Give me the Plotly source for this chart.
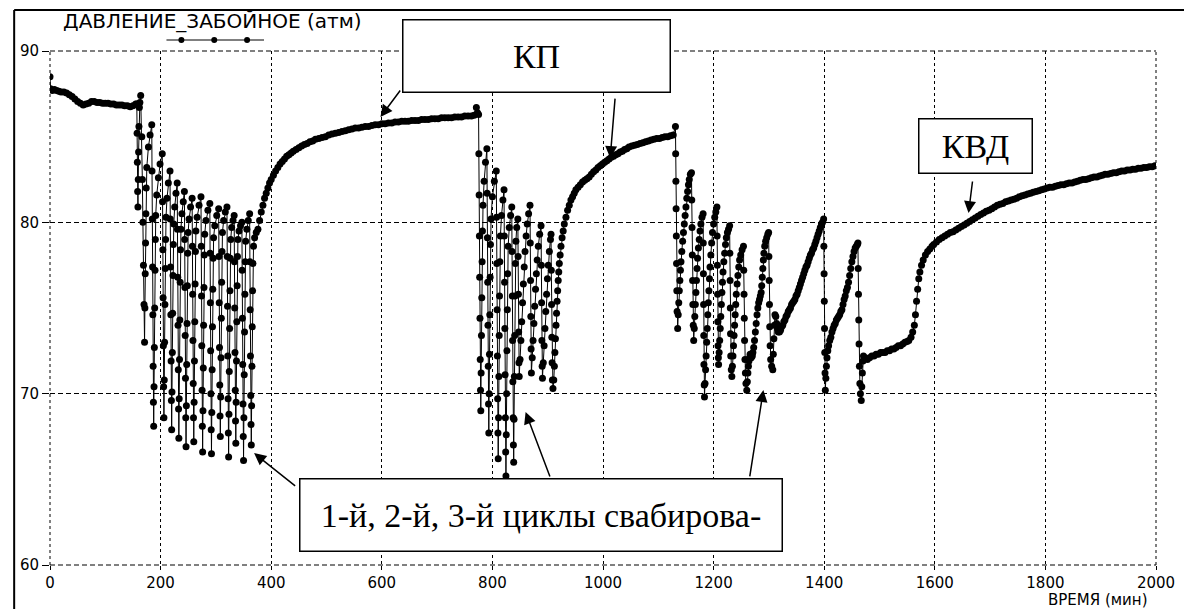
import plotly.graph_objects as go

# ---------------- data (time in minutes, bottom-hole pressure in atm) ----------------
initial = [(0, 88.5), (1, 87.8), (4, 87.7), (8, 87.75), (12, 87.7), (16, 87.65), (20, 87.6),
           (25, 87.6), (30, 87.55), (35, 87.45), (40, 87.35), (45, 87.2), (50, 87.05), (55, 86.95),
           (60, 86.85), (65, 86.9), (70, 86.95), (75, 87.05), (80, 87.05), (85, 87.0), (90, 87.0),
           (95, 86.95), (100, 86.95), (105, 86.95), (110, 86.9), (115, 86.9), (120, 86.85),
           (125, 86.85), (130, 86.85), (135, 86.8), (140, 86.8), (145, 86.75), (150, 86.8), (155, 86.9)]

swab1 = [(157, 86.9), (157.5, 85.2), (158, 83.5), (158.5, 81.8), (159, 80.9), (159.6, 82.5),
         (160.2, 84.1), (160.8, 85.6), (161.6, 86.7), (162.5, 87.0), (164, 87.4),
         (166, 85.0), (167, 82.5), (168, 80.0), (169, 77.5), (170, 75.2), (171, 73.0),
         (171.6, 75.0), (172.2, 77.0), (172.8, 78.8), (173.4, 80.5), (174, 82.0), (175, 83.2),
         (178, 84.4), (181, 85.1), (184, 85.7),
         (184.5, 83.0), (185, 80.2), (185.5, 77.4), (186, 74.6), (186.5, 71.6), (187, 69.5), (187.5, 68.1),
         (188.1, 70.4), (188.7, 72.7), (189.3, 75.0), (189.9, 77.2), (190.5, 79.0), (191.2, 80.4),
         (193, 81.6), (196, 82.6), (199, 83.4), (203, 84.0),
         (203.5, 81.2), (204, 78.4), (204.5, 75.6), (205, 72.8), (205.5, 70.4), (206, 68.6),
         (206.6, 70.8), (207.2, 73.0), (207.8, 75.2), (208.4, 77.3), (209, 79.0), (209.8, 80.3),
         (211.5, 81.4), (214, 82.3), (217, 83.0),
         (217.5, 80.2), (218, 77.4), (218.5, 74.6), (219, 71.9), (219.5, 69.6), (220, 67.9),
         (220.6, 70.1), (221.2, 72.4), (221.8, 74.7), (222.4, 76.9), (223, 78.7), (223.8, 79.9),
         (225.5, 80.9), (227.8, 81.7), (230, 82.3),
         (230.5, 79.6), (231, 76.8), (231.5, 74.0), (232, 71.4), (232.5, 69.1), (233, 67.4),
         (233.6, 69.7), (234.2, 72.0), (234.8, 74.3), (235.4, 76.5), (236, 78.4), (236.8, 79.6),
         (238.5, 80.5), (241, 81.2), (243, 81.8),
         (243.5, 79.0), (244, 76.2), (244.5, 73.4), (245, 70.9), (245.5, 68.6), (246, 66.9),
         (246.6, 69.3), (247.2, 71.7), (247.8, 74.1), (248.4, 76.3), (249, 78.2), (249.8, 79.4),
         (251.5, 80.2), (254.2, 80.9), (257, 81.4),
         (257.5, 78.6), (258, 75.8), (258.5, 73.1), (259, 70.6), (259.5, 68.6), (260, 67.2),
         (260.6, 69.5), (261.2, 71.9), (261.8, 74.2), (262.4, 76.4), (263, 78.3), (263.8, 79.5),
         (266, 80.3), (269.5, 81.0), (273, 81.5),
         (273.5, 78.6), (274, 75.7), (274.5, 72.8), (275, 70.2), (275.5, 68.1), (276, 66.6),
         (276.6, 69.0), (277.2, 71.5), (277.8, 74.0), (278.4, 76.2), (279, 78.1), (279.8, 79.3),
         (282, 80.1), (285.5, 80.7), (289, 81.1),
         (289.5, 78.2), (290, 75.3), (290.5, 72.5), (291, 70.0), (291.5, 67.9), (292, 66.5),
         (292.6, 68.9), (293.2, 71.4), (293.8, 73.9), (294.4, 76.1), (295, 77.9), (295.8, 79.1),
         (298, 79.8), (301.5, 80.4), (305, 80.8),
         (305.5, 78.0), (306, 75.3), (306.5, 72.7), (307, 70.5), (307.5, 68.7), (308, 67.5),
         (308.6, 69.8), (309.2, 72.1), (309.8, 74.4), (310.4, 76.5), (311, 78.3), (311.8, 79.4),
         (314, 80.1), (317, 80.6), (320, 80.9),
         (320.5, 78.0), (321, 75.1), (321.5, 72.2), (322, 69.7), (322.5, 67.7), (323, 66.3),
         (323.6, 68.8), (324.2, 71.3), (324.8, 73.8), (325.4, 76.0), (326, 77.9), (326.8, 79.0),
         (328.5, 79.7), (331, 80.1), (333, 80.4),
         (333.5, 77.7), (334, 75.0), (334.5, 72.4), (335, 70.2), (335.5, 68.4), (336, 67.1),
         (336.6, 69.5), (337.2, 71.9), (337.8, 74.2), (338.4, 76.3), (339, 78.0), (339.8, 79.0),
         (341.8, 79.5), (344.5, 79.8), (347, 80.0),
         (347.5, 77.2), (348, 74.4), (348.5, 71.7), (349, 69.4), (349.5, 67.5), (350, 66.1),
         (350.6, 68.6), (351.2, 71.1), (351.8, 73.6), (352.4, 75.8), (353, 77.7), (353.8, 78.9),
         (356, 79.6), (358.5, 80.1), (361, 80.5),
         (361.5, 77.7), (362, 74.9), (362.5, 72.2), (363, 69.9), (363.5, 68.2), (364, 67.0),
         (364.6, 69.3), (365.2, 71.6), (365.8, 73.9), (366.4, 76.0), (367, 77.6), (368, 78.6),
         (370, 79.1), (373, 79.4), (376, 79.6)]

recov1 = [(379, 80.1), (382, 80.6), (385, 81.0), (388, 81.4), (391, 81.7), (394, 82.0), (397, 82.3),
          (400, 82.5), (404, 82.75), (408, 83.0), (412, 83.2), (416, 83.4), (420, 83.55), (424, 83.7),
          (428, 83.85), (432, 83.95), (436, 84.05), (440, 84.15), (445, 84.25), (450, 84.35),
          (455, 84.45), (460, 84.55), (465, 84.6), (470, 84.7), (475, 84.75), (480, 84.85),
          (486, 84.9), (492, 84.95), (498, 85.0), (504, 85.1), (510, 85.15), (516, 85.2),
          (522, 85.25), (528, 85.3), (534, 85.35), (540, 85.4), (546, 85.45), (552, 85.5),
          (558, 85.5), (564, 85.55), (570, 85.6), (576, 85.6), (582, 85.65), (588, 85.7),
          (594, 85.7), (600, 85.75), (606, 85.75), (612, 85.8), (618, 85.8), (624, 85.85),
          (630, 85.85), (636, 85.9), (642, 85.9), (648, 85.9), (654, 85.95), (660, 85.95),
          (666, 85.95), (672, 86.0), (678, 86.0), (684, 86.0), (690, 86.05), (696, 86.05),
          (702, 86.05), (708, 86.1), (714, 86.1), (720, 86.1), (726, 86.1), (732, 86.15),
          (738, 86.15), (744, 86.15), (750, 86.2), (756, 86.2), (762, 86.2), (767, 86.25), (771, 86.7)]

swab2 = [(773, 86.4), (775, 86.3),
         (775.5, 84.0), (776, 81.6), (776.5, 79.2), (777, 76.8), (777.5, 74.4), (778, 72.0),
         (778.5, 70.2), (779, 69.0),
         (779.6, 71.2), (780.2, 73.4), (780.8, 75.6), (781.4, 77.7), (782, 79.5), (783, 81.0),
         (785, 82.4), (787.5, 83.5), (790, 84.3),
         (790.5, 81.7), (791, 79.1), (791.5, 76.5), (792, 74.0), (792.5, 71.6), (793, 69.4), (793.5, 67.7),
         (794.1, 70.0), (794.7, 72.3), (795.3, 74.6), (795.9, 76.8), (796.5, 78.7), (797.5, 80.2),
         (800, 81.5), (803.5, 82.4), (807, 83.0),
         (807.5, 80.3), (808, 77.6), (808.5, 74.9), (809, 72.2), (809.5, 69.7), (810, 67.7), (810.5, 66.2),
         (811.1, 68.6), (811.7, 71.0), (812.3, 73.4), (812.9, 75.7), (813.5, 77.7), (814.5, 79.2),
         (816.5, 80.4), (819, 81.3), (821, 81.9),
         (821.5, 79.2), (822, 76.5), (822.5, 73.8), (823, 71.1), (823.5, 68.6), (824, 66.6), (824.5, 65.2),
         (825.1, 67.6), (825.7, 70.0), (826.3, 72.5), (826.9, 74.9), (827.5, 77.0), (828.5, 78.6),
         (830.5, 79.7), (833, 80.4), (835, 80.9),
         (835.5, 78.3), (836, 75.7), (836.5, 73.1), (837, 70.7), (837.5, 68.6), (838, 67.0), (838.5, 66.0),
         (839.1, 68.5), (839.7, 71.0), (840.3, 73.4), (840.9, 75.7), (841.5, 77.6), (842.5, 78.9),
         (844, 79.7), (846, 80.2),
         (846.5, 78.0), (847, 75.8), (847.5, 73.6), (848, 71.8), (848.5, 71.0),
         (850, 72.0), (851.5, 73.1), (853, 74.2), (854.5, 75.3), (856, 76.4), (857.5, 77.4),
         (859, 78.3), (861, 79.2), (863, 79.9), (865.5, 80.5), (868, 81.0),
         (868.5, 78.8), (869, 76.6), (869.5, 74.5), (870, 72.6), (870.5, 71.2),
         (872, 72.1), (873.5, 73.1), (875, 74.1), (876.5, 75.1), (878, 76.1), (879.5, 77.0),
         (881, 77.8), (883, 78.6), (885.5, 79.3), (888, 79.8),
         (888.5, 77.5), (889, 75.3), (889.5, 73.1), (890, 71.6), (890.5, 70.9),
         (892, 71.8), (893.5, 72.8), (895, 73.8), (896.5, 74.8), (898, 75.8), (899.5, 76.7),
         (901, 77.5), (903, 78.3), (905, 79.0), (906, 79.3),
         (906.5, 77.2), (907, 75.2), (907.5, 73.3), (908, 71.8), (908.5, 70.8), (909.5, 70.3)]

recov2 = [(911, 70.8), (912, 71.6), (913, 72.4), (914, 73.2), (915, 74.0), (916, 74.7), (917, 75.4),
          (918, 76.0), (919, 76.6), (920, 77.1), (921, 77.6), (922.5, 78.1), (924, 78.6), (926, 79.1),
          (928, 79.5), (930, 79.9), (933, 80.3), (936, 80.7), (939, 81.0), (942, 81.3), (945, 81.5),
          (948, 81.7), (951, 81.9), (955, 82.05), (959, 82.2), (963, 82.35), (967, 82.45),
          (971, 82.55), (975, 82.65), (979, 82.8), (983, 82.95), (987, 83.05), (991, 83.2),
          (995, 83.3), (999, 83.4), (1003, 83.5), (1007, 83.6), (1011, 83.7), (1015, 83.8),
          (1019, 83.85), (1023, 83.95), (1027, 84.0), (1031, 84.1), (1035, 84.15), (1039, 84.25),
          (1043, 84.3), (1047, 84.4), (1052, 84.45), (1057, 84.5), (1062, 84.55), (1067, 84.6),
          (1072, 84.65), (1077, 84.7), (1082, 84.75), (1087, 84.8), (1092, 84.85), (1097, 84.9),
          (1102, 84.9), (1107, 84.95), (1112, 85.0), (1117, 85.0), (1122, 85.05), (1127, 85.1)]

swab3 = [(1131, 85.6), (1131.4, 84.0), (1131.8, 82.4), (1132.2, 80.8), (1132.6, 79.2), (1133, 77.6),
         (1133.5, 76.0), (1134, 74.8), (1135, 73.8),
         (1136, 74.6), (1137, 75.3), (1138, 76.0), (1139, 76.6), (1140, 77.2), (1141, 77.7),
         (1142.5, 78.3), (1144, 78.9), (1145.5, 79.4), (1147, 79.9), (1148.5, 80.4), (1150, 80.9),
         (1151.5, 81.4), (1153, 81.8), (1154.5, 82.2), (1156, 82.5), (1158, 82.8), (1160, 82.9),
         (1160.5, 81.3), (1161, 79.7), (1161.5, 78.1), (1162, 76.6), (1162.5, 75.2), (1163.2, 74.0),
         (1164, 73.1),
         (1165, 73.8), (1166, 74.5), (1167, 75.2), (1168, 75.9), (1169, 76.6), (1170, 77.3),
         (1171, 77.9), (1172.5, 78.5), (1174, 79.0), (1175.5, 79.5), (1177, 79.9), (1179, 80.3),
         (1181, 80.5),
         (1181.3, 78.8), (1181.6, 77.0), (1181.9, 75.2), (1182.2, 73.4), (1182.5, 71.7), (1183, 70.5),
         (1183.5, 69.8),
         (1184.5, 70.6), (1185.5, 71.4), (1186.5, 72.2), (1187.5, 73.0), (1188.5, 73.8), (1189.5, 74.6),
         (1190.5, 75.3), (1191.5, 76.0), (1192.5, 76.7), (1193.5, 77.4), (1195, 78.1), (1196.5, 78.8),
         (1198, 79.4), (1200, 79.9), (1202, 80.3), (1204, 80.6), (1206, 80.9),
         (1206.4, 79.2), (1206.8, 77.5), (1207.2, 75.8), (1207.6, 74.2), (1208, 72.8), (1208.6, 72.1),
         (1209, 71.7),
         (1210, 72.4), (1211, 73.1), (1212, 73.8), (1213, 74.5), (1214, 75.2), (1215, 75.9),
         (1216, 76.5), (1217, 77.1), (1218.5, 77.7), (1220, 78.2), (1221.5, 78.7), (1223, 79.1),
         (1225, 79.4), (1227, 79.6), (1229, 79.8),
         (1229.4, 78.2), (1229.8, 76.6), (1230.2, 75.0), (1230.6, 73.5), (1231, 72.2), (1232, 71.4),
         (1233, 71.0),
         (1234, 71.6), (1235, 72.2), (1236, 72.8), (1237, 73.4), (1238, 74.0), (1239, 74.6),
         (1240, 75.2), (1241, 75.8), (1242.5, 76.4), (1244, 76.9), (1245.5, 77.4), (1247, 77.8),
         (1249, 78.1), (1251.5, 78.4), (1254, 78.6),
         (1254.5, 77.2), (1255, 75.8), (1255.5, 74.4), (1256, 73.1), (1256.7, 72.0), (1257.5, 71.2),
         (1258.5, 70.6), (1260, 70.2),
         (1261, 70.7), (1262, 71.2), (1263, 71.6), (1264, 71.9), (1265, 72.1), (1266, 72.3),
         (1267, 72.2), (1268, 72.1), (1269, 72.3), (1270, 72.2), (1271, 72.4), (1272.5, 72.7),
         (1274, 73.1), (1275.5, 73.6), (1277, 74.1), (1278.5, 74.6), (1280, 75.0), (1281.5, 75.3),
         (1283, 75.5), (1284.5, 75.7), (1286, 75.9), (1287, 76.3), (1288, 76.8), (1289, 77.3),
         (1290, 77.8), (1291, 78.2), (1292.5, 78.6), (1294, 78.9), (1296, 79.1), (1298, 79.3),
         (1299.5, 79.4),
         (1300, 78.0), (1300.5, 76.6), (1301, 75.2), (1301.5, 73.9), (1302.2, 72.8), (1303.2, 72.0),
         (1305, 71.6), (1307, 71.4),
         (1308, 72.3), (1309, 73.2), (1310, 74.0), (1311, 74.6), (1312.5, 74.5), (1314, 74.1),
         (1315.5, 73.8), (1317, 73.6), (1319, 73.6), (1321, 73.7), (1323, 73.9), (1325, 74.0),
         (1327, 74.2), (1329, 74.3), (1331, 74.5), (1333, 74.6), (1335, 74.8), (1337, 74.9),
         (1339, 75.0), (1341, 75.2), (1343, 75.3), (1345, 75.4), (1347, 75.5), (1349, 75.7),
         (1351, 75.8), (1353, 76.0), (1355, 76.2), (1357, 76.4), (1359, 76.6), (1361, 76.8),
         (1363, 77.0), (1365, 77.2), (1367, 77.4), (1369, 77.5), (1371, 77.7), (1373, 77.9),
         (1375, 78.1), (1377, 78.2), (1379, 78.4), (1381, 78.5), (1383, 78.7), (1385, 78.9),
         (1387, 79.1), (1389, 79.3), (1391, 79.5), (1393, 79.7), (1395, 79.9), (1397, 80.0),
         (1399, 80.2),
         (1399.4, 78.6), (1399.8, 77.0), (1400.2, 75.4), (1400.6, 73.8), (1401, 72.4), (1401.5, 71.2),
         (1402, 70.2),
         (1403, 70.9), (1404, 71.6), (1405, 72.1), (1406.5, 72.5), (1408, 72.8), (1410, 73.1),
         (1412, 73.3), (1414, 73.6), (1416, 73.8), (1418, 74.0), (1420, 74.1), (1422, 74.3),
         (1424, 74.4), (1426, 74.5), (1428, 74.6), (1430, 74.8), (1432, 74.9), (1434, 75.2),
         (1436, 75.5), (1438, 75.7), (1440, 76.0), (1442, 76.2), (1444, 76.5), (1446, 76.9),
         (1448, 77.3), (1450, 77.7), (1452, 78.0), (1454, 78.3), (1456, 78.5), (1458, 78.6),
         (1460, 78.7), (1461, 78.8),
         (1461.5, 77.3), (1462, 75.8), (1462.5, 74.3), (1463, 72.9), (1463.7, 71.6), (1464.5, 70.6),
         (1465.5, 70.0), (1467, 69.6)]

recov3 = [(1468, 70.4), (1469, 71.2), (1470, 71.9), (1471, 72.2), (1474, 72.1), (1478, 72.0),
          (1482, 72.1), (1486, 72.2),
          (1490, 72.2), (1494, 72.3), (1498, 72.3), (1502, 72.4), (1506, 72.4), (1510, 72.4),
          (1514, 72.5), (1518, 72.5), (1522, 72.6), (1526, 72.6), (1530, 72.7), (1534, 72.8),
          (1538, 72.8), (1542, 72.9), (1546, 73.0), (1550, 73.05), (1553, 73.1), (1557, 73.3),
          (1560, 73.6), (1563, 74.0), (1565, 74.6), (1567, 75.4), (1569, 76.1), (1571, 76.7),
          (1573, 77.1), (1576, 77.5), (1579, 77.8), (1583, 78.1), (1587, 78.3), (1591, 78.45),
          (1595, 78.6), (1598, 78.7), (1603, 78.85), (1608, 79.0), (1613, 79.1), (1618, 79.2),
          (1623, 79.3), (1628, 79.4), (1633, 79.45), (1638, 79.55), (1643, 79.65), (1648, 79.75),
          (1653, 79.85), (1658, 79.95), (1663, 80.05), (1668, 80.15), (1673, 80.25), (1678, 80.35),
          (1683, 80.45), (1688, 80.55), (1693, 80.65), (1698, 80.7), (1703, 80.8), (1708, 80.9),
          (1713, 81.0), (1718, 81.05), (1723, 81.1), (1728, 81.2), (1733, 81.25), (1738, 81.3),
          (1743, 81.35), (1748, 81.4), (1753, 81.5), (1758, 81.55), (1763, 81.6), (1768, 81.65),
          (1773, 81.7), (1778, 81.75), (1783, 81.8), (1788, 81.85), (1793, 81.9), (1798, 81.95),
          (1803, 82.0), (1808, 82.05), (1813, 82.05), (1818, 82.1), (1823, 82.15), (1828, 82.2),
          (1833, 82.2), (1838, 82.25), (1843, 82.3), (1848, 82.3), (1853, 82.35), (1858, 82.4),
          (1863, 82.45), (1868, 82.5), (1873, 82.5), (1878, 82.55), (1883, 82.6), (1888, 82.65),
          (1893, 82.65), (1898, 82.7), (1903, 82.75), (1908, 82.8), (1913, 82.8), (1918, 82.85),
          (1923, 82.9), (1928, 82.9), (1933, 82.95), (1938, 83.0), (1943, 83.0), (1948, 83.05),
          (1953, 83.05), (1958, 83.1), (1963, 83.1), (1968, 83.15), (1973, 83.15), (1978, 83.2),
          (1983, 83.2), (1988, 83.25), (1993, 83.25), (1998, 83.3)]

x_ticks = [0, 200, 400, 600, 800, 1000, 1200, 1400, 1600, 1800, 2000]
y_ticks = [60, 70, 80, 90]

series_title = "ДАВЛЕНИЕ_ЗАБОЙНОЕ (атм)"
x_title = "ВРЕМЯ (мин)"

segments = [initial, swab1, recov1, swab2, recov2, swab3, recov3]
time_min = [t for seg in segments for t, _ in seg]
pressure = [p for seg in segments for _, p in seg]

# ---------------- figure ----------------
# The page body has an 8 px margin, so the figure is sized/margined to compensate.
fig = go.Figure()
fig.add_trace(go.Scatter(
    x=time_min, y=pressure, mode="lines+markers",
    line=dict(color="black", width=1),
    marker=dict(symbol="circle", size=7, color="black"),
    showlegend=False, hoverinfo="x+y"))

tickfont = dict(family="DejaVu Sans", size=15, color="black")
fig.update_layout(
    width=1184, height=601,
    margin=dict(l=37, r=36, t=43, b=44),
    paper_bgcolor="white", plot_bgcolor="white",
    xaxis=dict(range=[0, 2000], tickvals=x_ticks, showgrid=True, gridcolor="black",
               griddash="3px,3px", gridwidth=1, zeroline=False, showline=False,
               ticks="outside", ticklen=4, tickcolor="black", tickfont=tickfont),
    yaxis=dict(range=[60, 90], tickvals=y_ticks, showgrid=True, gridcolor="black",
               griddash="5px,3px", gridwidth=1, zeroline=False, showline=False,
               ticks="outside", ticklen=7, tickcolor="black", tickfont=tickfont),
)

# dashed frame on plot-area edges
for (x0, y0, x1, y1, d) in [(0, 0, 1, 0, "5px,3px"), (0, 1, 1, 1, "5px,3px"),
                             (0, 0, 0, 1, "3px,3px"), (1, 0, 1, 1, "3px,3px")]:
    fig.add_shape(type="line", xref="paper", yref="paper", x0=x0, y0=y0, x1=x1, y1=y1,
                  line=dict(color="black", width=1, dash=d))

# outer figure frame (left and top)
fig.add_shape(type="line", xref="paper", yref="paper", x0=-0.0324, x1=-0.0324, y0=-0.2, y1=1.0798,
              line=dict(color="black", width=2))
fig.add_shape(type="line", xref="paper", yref="paper", x0=-0.0324, x1=1.1, y0=1.0798, y1=1.0798,
              line=dict(color="black", width=2))

# series title + legend sample
fig.add_annotation(text=series_title, xref="paper", yref="paper", x=0.1467, y=1.0584,
                   xanchor="center", yanchor="middle", showarrow=False,
                   font=dict(family="DejaVu Sans", size=20, color="black"))
fig.add_shape(type="line", xref="paper", yref="paper", x0=0.1053, x1=0.1935, y0=1.0214, y1=1.0214,
              line=dict(color="black", width=1))
for px in [0.1188, 0.1485, 0.1782]:
    fig.add_shape(type="circle", xref="paper", yref="paper", xsizemode="pixel", ysizemode="pixel",
                  xanchor=px, yanchor=1.0214, x0=-3, x1=3, y0=-3, y1=3,
                  fillcolor="black", line=dict(color="black", width=0))

# x-axis title
fig.add_annotation(text=x_title, xref="paper", yref="paper", x=0.9946, y=-0.069,
                   xanchor="right", yanchor="middle", showarrow=False,
                   font=dict(family="DejaVu Sans", size=15, color="black"))

# labelled boxes
serif = "Liberation Serif"
boxes = [("КП", 880, 89.68, 266, 71), ("КВД", 1674, 84.48, 112, 53),
         ("1-й, 2-й, 3-й циклы свабирова-", 888, 62.94, 481, 71)]
for text, bx, by, w, h in boxes:
    fig.add_annotation(text=text, x=bx, y=by, xref="x", yref="y", showarrow=False,
                       width=w, height=h, bgcolor="white", bordercolor="black", borderwidth=1.5,
                       borderpad=0, align="center", valign="middle",
                       font=dict(family=serif, size=34, color="black"))

# arrows: (head_t, head_p, tail_t, tail_p)
arrows = [(597.6, 86.15, 635.3, 87.78), (1013, 83.75, 1022, 87.31), (1661, 80.54, 1668.5, 82.47),
          (369, 66.53, 446, 64.55), (860, 68.93, 905, 65.08), (1290, 70.21, 1265, 65.08)]
for hx, hy, tx, ty in arrows:
    fig.add_annotation(x=hx, y=hy, ax=tx, ay=ty, xref="x", yref="y", axref="x", ayref="y",
                       text="", showarrow=True, arrowhead=2, arrowsize=1.6, arrowwidth=1.5,
                       arrowcolor="black", standoff=0)

fig.write_html("out.html")
